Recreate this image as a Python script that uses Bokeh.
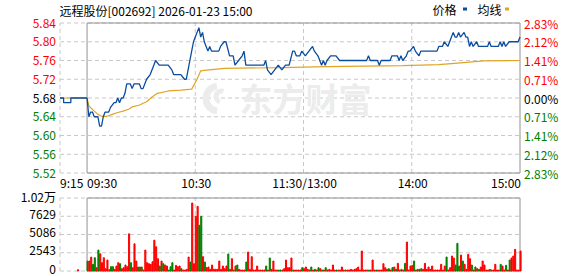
from bokeh.plotting import figure
from bokeh.models import Range1d, ColumnDataSource
from bokeh.core.properties import value
from bokeh.embed import file_html
from bokeh.resources import INLINE

# ---------------- data ----------------
TITLE = "远程股份[002692] 2026-01-23 15:00"
PREV_CLOSE = 5.68
price_ticks = [5.84, 5.80, 5.76, 5.72, 5.68, 5.64, 5.60, 5.56, 5.52]
price_labels = ["5.84", "5.80", "5.76", "5.72", "5.68", "5.64", "5.60", "5.56", "5.52"]
pct_labels = ["2.83%", "2.12%", "1.41%", "0.71%", "0.00%", "0.71%", "1.41%", "2.12%", "2.83%"]
vol_ticks = [10172, 7629, 5086, 2543, 0]
vol_labels = ["1.02万", "7629", "5086", "2543", "0"]
time_minutes = [-15, 0, 60, 120, 180, 240]
time_labels = ["9:15", "09:30", "10:30", "11:30/13:00", "14:00", "15:00"]
grid_minutes = [-15, 60, 120, 180]

pre_minutes = [-15, -13, -13, -9, -9, 0]
pre_price = [5.68, 5.68, 5.67, 5.67, 5.68, 5.68]
pre_avg_minutes = [-15, 0]
pre_avg = [5.68, 5.68]

price_minutes = [0, 1, 2, 3, 4, 6, 7, 8, 9, 10, 12, 13, 15, 16, 17, 18, 19, 20, 21, 22,
                 24, 25, 26, 28, 29, 30, 31, 33, 35, 37, 38, 40, 45, 47, 48, 50, 52, 54, 55, 56,
                 57, 58, 59, 60, 61, 62, 63, 64, 65, 66, 67, 68, 69, 73, 74, 76, 77, 79, 81, 82,
                 84, 86, 87, 88, 98, 99, 100, 102, 104, 106, 108, 110, 112, 114, 115, 116, 118, 119, 121, 123,
                 125, 126, 128, 130, 131, 132, 133, 135, 138, 140, 142, 155, 156, 157, 161, 162, 163, 168, 169, 172,
                 173, 174, 175, 177, 178, 179, 181, 182, 184, 185, 194, 195, 197, 198, 200, 202, 203, 204, 205, 206,
                 207, 209, 210, 211, 212, 213, 214, 216, 217, 222, 223, 224, 228, 229, 230, 231, 232, 234, 239, 240]
price_values = [5.68, 5.64, 5.65, 5.65, 5.64, 5.64, 5.62, 5.62, 5.64, 5.65, 5.65, 5.66, 5.67, 5.67, 5.68, 5.67, 5.68, 5.68, 5.69, 5.71,
                5.71, 5.70, 5.71, 5.71, 5.71, 5.70, 5.70, 5.72, 5.73, 5.75, 5.76, 5.75, 5.75, 5.74, 5.73, 5.73, 5.73, 5.72, 5.72, 5.74,
                5.76, 5.78, 5.80, 5.81, 5.82, 5.83, 5.81, 5.82, 5.80, 5.79, 5.78, 5.79, 5.78, 5.78, 5.79, 5.80, 5.80, 5.77, 5.77, 5.75,
                5.76, 5.77, 5.78, 5.75, 5.75, 5.76, 5.74, 5.73, 5.74, 5.75, 5.74, 5.75, 5.75, 5.78, 5.78, 5.77, 5.77, 5.78, 5.77, 5.78,
                5.79, 5.78, 5.77, 5.75, 5.76, 5.75, 5.76, 5.77, 5.77, 5.76, 5.76, 5.76, 5.77, 5.76, 5.76, 5.75, 5.76, 5.76, 5.77, 5.77,
                5.76, 5.77, 5.76, 5.77, 5.78, 5.78, 5.79, 5.78, 5.77, 5.78, 5.78, 5.79, 5.79, 5.80, 5.79, 5.81, 5.82, 5.81, 5.81, 5.82,
                5.81, 5.82, 5.81, 5.81, 5.79, 5.80, 5.79, 5.80, 5.79, 5.79, 5.80, 5.79, 5.79, 5.80, 5.79, 5.80, 5.79, 5.80, 5.80, 5.81]

avg_minutes = [0, 1, 4, 6, 8, 11, 14, 17, 20, 23, 25, 29, 33, 36, 39, 45, 52, 58, 61, 63,
               65, 76, 108, 133, 175, 195, 207, 220, 240]
avg_values = [5.680, 5.663, 5.652, 5.645, 5.641, 5.641, 5.645, 5.649, 5.652, 5.656, 5.661, 5.665, 5.672, 5.682, 5.690, 5.695, 5.697, 5.699, 5.720, 5.738,
              5.739, 5.743, 5.745, 5.747, 5.749, 5.751, 5.755, 5.759, 5.760]

auction_minute = -5
auction_volume = 180
auction_dir = "r"

volume = [1386, 1386, 1940, 924, 1848, 462, 2911, 2402, 1155, 1848,
          323, 1525, 185, 600, 600, 231, 693, 1155, 1016, 323,
          462, 832, 600, 5174, 1155, 462, 3788, 1386, 554, 554,
          554, 139, 2911, 1155, 1016, 924, 1294, 4297, 3373, 1709,
          693, 1386, 1016, 832, 693, 139, 600, 1155, 139, 785,
          600, 693, 323, 139, 139, 231, 1940, 1247, 9471, 1016,
          7623, 9009, 6376, 7623, 1995, 1253, 464, 557, 232, 835,
          232, 232, 232, 1392, 232, 696, 325, 696, 2366, 232,
          1717, 139, 696, 835, 232, 139, 139, 139, 1253, 2645,
          232, 1995, 139, 139, 696, 139, 139, 139, 139, 696,
          139, 1810, 232, 1392, 139, 139, 139, 139, 139, 325,
          1531, 464, 464, 1810, 139, 139, 139, 139, 139, 464,
          325, 557, 232, 139, 557, 139, 232, 139, 464, 325,
          139, 139, 464, 139, 232, 139, 835, 139, 139, 139,
          139, 557, 139, 139, 139, 139, 232, 139, 232, 325,
          557, 139, 2784, 139, 139, 139, 139, 139, 1531, 139,
          139, 139, 139, 139, 1021, 464, 232, 325, 139, 464,
          557, 232, 1067, 139, 232, 139, 1067, 4037, 139, 696,
          789, 1392, 139, 232, 232, 325, 232, 1067, 232, 557,
          232, 696, 139, 139, 139, 139, 928, 139, 696, 1949,
          139, 464, 2088, 1810, 835, 3851, 696, 2227, 1392, 928,
          232, 2320, 1717, 835, 139, 557, 325, 232, 557, 1392,
          835, 139, 139, 232, 139, 139, 928, 139, 139, 928,
          696, 139, 789, 139, 1531, 1810, 2088, 3016, 139, 139,
          2784]
volume_dir = ("grrggrgrrr" "rrrggrrrgr" "rrrrgrrrgr" "grrrrrrrrr" "grgrrgggrr" "rrgrrrrgrr" "rrgg"
              "rgrrrrrrrr" "rrrrgrrgrg" "rrrrgrrrrr" "rrrrrgrgrr" "rrggrrrrrr" "grrrrgrrrr"
              "grgrgrgrgr" "rrrrgrrrrg" "rrrrrrrrrr" "rrgrrrgrrr" "rrrgrgrgrr" "grgrrrrgrg"
              "rgrrrrrrrr" "rrrrrgrrrr" "gggrgrrrrg" "rgrgrrrrrg" "rrrrrgrrgr" "grrrrrr")

# ---------------- layout / style ----------------
W, H = 578, 276
PX_L, PX_R = 59.5, 519.5          # 9:15 and 15:00
PXM = (PX_R - PX_L) / 255.0       # px per minute
X0 = -15 - PX_L / PXM
X1 = 240 + (W - PX_R) / PXM

P_TOP, P_BOT = 22.5, 172.5        # px of top / bottom price tick
PPY = (max(price_ticks) - min(price_ticks)) / (P_BOT - P_TOP)
Y_END = max(price_ticks) + P_TOP * PPY
Y_START = max(price_ticks) - (H - P_TOP) * PPY

V_TOP, V_BOT = 197.5, 270.5
VPY = max(vol_ticks) / (V_BOT - V_TOP)
V_END = max(vol_ticks) + V_TOP * VPY
V_START = -(H - V_BOT) * VPY


def X(px):
    return X0 + px * (X1 - X0) / W


def YP(py):
    return Y_END - py * PPY


FONT = value("Noto Sans CJK SC")
RED, GREEN, BLACK = "#ff0000", "#008000", "#000000"
BLUE, GOLD = "#0a4c9e", "#e0a526"
GRID = "#c8c8c8"
BOX = "#929292"
MARK = "#ececec"

p = figure(width=W, height=H, output_backend="svg", toolbar_location=None,
           x_range=Range1d(X0, X1), y_range=Range1d(Y_START, Y_END),
           x_axis_type=None, y_axis_type=None, min_border=0,
           min_border_left=0, min_border_right=0, min_border_top=0, min_border_bottom=0,
           outline_line_color=None, background_fill_color="white", border_fill_color="white")
p.extra_y_ranges = {"vol": Range1d(V_START, V_END)}
p.grid.visible = False

# grid lines (price)
p.segment(x0=[-15] * len(price_ticks), x1=[240] * len(price_ticks), y0=price_ticks, y1=price_ticks,
          line_color=GRID, line_dash="4 3", line_width=1)
p.segment(x0=grid_minutes, x1=grid_minutes, y0=[min(price_ticks)] * len(grid_minutes),
          y1=[max(price_ticks)] * len(grid_minutes), line_color=GRID, line_dash="4 3", line_width=1)
# grid lines (volume)
p.segment(x0=[-15] * len(vol_ticks), x1=[240] * len(vol_ticks), y0=vol_ticks, y1=vol_ticks,
          line_color=GRID, line_dash="4 3", line_width=1, y_range_name="vol")
p.segment(x0=grid_minutes, x1=grid_minutes, y0=[0] * len(grid_minutes),
          y1=[max(vol_ticks)] * len(grid_minutes), line_color=GRID, line_dash="4 3", line_width=1,
          y_range_name="vol")

# boxes
p.quad(left=[0], right=[240], bottom=[min(price_ticks)], top=[max(price_ticks)],
       fill_color=None, line_color=BOX, line_width=1)
p.quad(left=[0], right=[240], bottom=[0], top=[max(vol_ticks)],
       fill_color=None, line_color=BOX, line_width=1, y_range_name="vol")

# watermark (logo swirl + text)
p.annular_wedge(x=[X(218)], y=[YP(98)], inner_radius=9, outer_radius=16,
                inner_radius_units="screen", outer_radius_units="screen",
                start_angle=1.7, end_angle=4.6, fill_color=MARK, line_color=None)
p.annular_wedge(x=[X(221)], y=[YP(96)], inner_radius=3, outer_radius=8,
                inner_radius_units="screen", outer_radius_units="screen",
                start_angle=1.2, end_angle=4.4, fill_color=MARK, line_color=None)
p.text(x=[X(305)], y=[YP(97)], text=["东方财富"], text_font=FONT, text_font_size="33px",
       text_font_style="bold", text_color=MARK, text_align="center", text_baseline="middle")

# volume bars
cmap = {"r": RED, "g": GREEN}
vol_x = [i + 0.3 for i in range(len(volume))] + [auction_minute]
vol_y = list(volume) + [auction_volume]
vol_c = [cmap[c] for c in volume_dir[:len(volume)]] + [cmap[auction_dir]]
p.vbar(x=vol_x, top=vol_y, bottom=0, width=0.6, color=vol_c, y_range_name="vol")

# price & average lines
p.line(pre_avg_minutes, pre_avg, line_color=GOLD, line_width=1.2)
p.line(avg_minutes, avg_values, line_color=GOLD, line_width=1.2)
p.line(pre_minutes, pre_price, line_color=BLUE, line_width=1.3)
p.line(price_minutes, price_values, line_color=BLUE, line_width=1.3)


def tick_color(t):
    if abs(t - PREV_CLOSE) < 1e-9:
        return BLACK
    return RED if t > PREV_CLOSE else GREEN


colors = [tick_color(t) for t in price_ticks]
src_l = ColumnDataSource(dict(x=[X(55.5)] * len(price_ticks), y=price_ticks, t=price_labels, c=colors))
p.text(x="x", y="y", text="t", text_color="c", source=src_l, text_font=FONT, text_font_size="12px",
       text_align="right", text_baseline="middle")
src_r = ColumnDataSource(dict(x=[X(523.5)] * len(price_ticks), y=price_ticks, t=pct_labels, c=colors))
p.text(x="x", y="y", text="t", text_color="c", source=src_r, text_font=FONT, text_font_size="12px",
       text_align="left", text_baseline="middle")

# volume labels
p.text(x=[X(55.5)] * len(vol_ticks), y=vol_ticks, text=vol_labels, text_font=FONT, text_font_size="12px",
       text_color=BLACK, text_align="right", text_baseline="middle", y_range_name="vol", y_offset=-2)

# time labels
ty = YP(182)
p.text(x=time_minutes[:2], y=[ty, ty], text=time_labels[:2], text_font=FONT, text_font_size="12px",
       text_color=BLACK, text_align="left", text_baseline="middle", x_offset=0)
p.text(x=time_minutes[2:5], y=[ty] * 3, text=time_labels[2:5], text_font=FONT, text_font_size="12px",
       text_color=BLACK, text_align="center", text_baseline="middle", x_offset=1)
p.text(x=time_minutes[5:], y=[ty], text=time_labels[5:], text_font=FONT, text_font_size="12px",
       text_color=BLACK, text_align="right", text_baseline="middle", x_offset=1)

# title and legend
p.text(x=[X(59)], y=[YP(9.5)], text=[TITLE], text_font=FONT, text_font_size="12px",
       text_color=BLACK, text_align="left", text_baseline="middle")
p.text(x=[X(432), X(477)], y=[YP(8.5)] * 2, text=["价格", "均线"], text_font=FONT, text_font_size="12px",
       text_color=BLACK, text_align="left", text_baseline="middle")
p.rect(x=[X(464.5), X(506.5)], y=[YP(8.5)] * 2, width=4, height=3, width_units="screen",
       height_units="screen", fill_color=[BLUE, GOLD], line_color=None)

open("out.html", "w").write(file_html(p, INLINE))
